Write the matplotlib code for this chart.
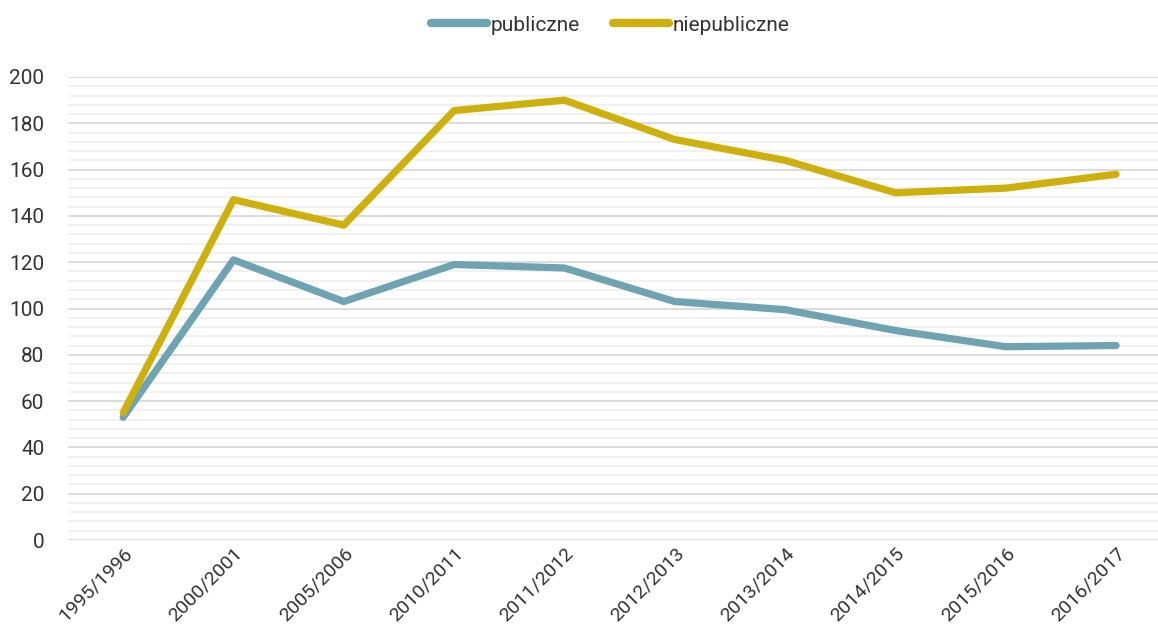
import matplotlib
matplotlib.use('Agg')
import matplotlib.pyplot as plt
from matplotlib.ticker import MultipleLocator

plt.rcParams['font.family'] = ['Roboto', 'DejaVu Sans']

# school years and values
years = ['1995/1996', '2000/2001', '2005/2006', '2010/2011', '2011/2012',
         '2012/2013', '2013/2014', '2014/2015', '2015/2016', '2016/2017']
publiczne = [53, 121, 103, 119, 117.5, 103, 99.5, 90.5, 83.5, 84]
niepubliczne = [55, 147, 136, 185.5, 190, 173, 164, 150, 152, 158]

fig = plt.figure(figsize=(11.58, 6.31), dpi=100)
ax = fig.add_axes([68 / 1158, 1 - 540 / 631, 1 - 68 / 1158, 463 / 631])

x = range(len(years))
ax.plot(x, publiczne, color='#6FA3B1', lw=5.2, solid_capstyle='round',
        solid_joinstyle='round', label='publiczne', zorder=3)
ax.plot(x, niepubliczne, color='#CDB00B', lw=5.2, solid_capstyle='round',
        solid_joinstyle='round', label='niepubliczne', zorder=3)

ax.set_ylim(0, 200)
ax.set_xlim(-0.5, 9.38)
ax.yaxis.set_major_locator(MultipleLocator(20))
ax.yaxis.set_minor_locator(MultipleLocator(4))
ax.grid(which='major', axis='y', color='#D9D9D9', lw=1.3)
ax.grid(which='minor', axis='y', color='#F0F0F0', lw=1.3)
ax.set_axisbelow(True)
for s in ax.spines.values():
    s.set_visible(False)

ax.set_xticks(list(x))
ax.set_xticklabels(years, rotation=45, ha='right', rotation_mode='anchor')
ax.tick_params(axis='both', which='both', length=0, colors='#333333')
ax.tick_params(axis='y', pad=17, labelsize=15)
ax.tick_params(axis='x', pad=3, labelsize=14)

leg = fig.legend(loc='upper center', bbox_to_anchor=(0.527, 1.005), ncol=2,
                 frameon=False, fontsize=15, handlelength=2.7, handletextpad=0.15,
                 columnspacing=1.6)
for line in leg.get_lines():
    line.set_linewidth(6)
for t in leg.get_texts():
    t.set_color('#333333')

fig.savefig('out.png', dpi=100)
